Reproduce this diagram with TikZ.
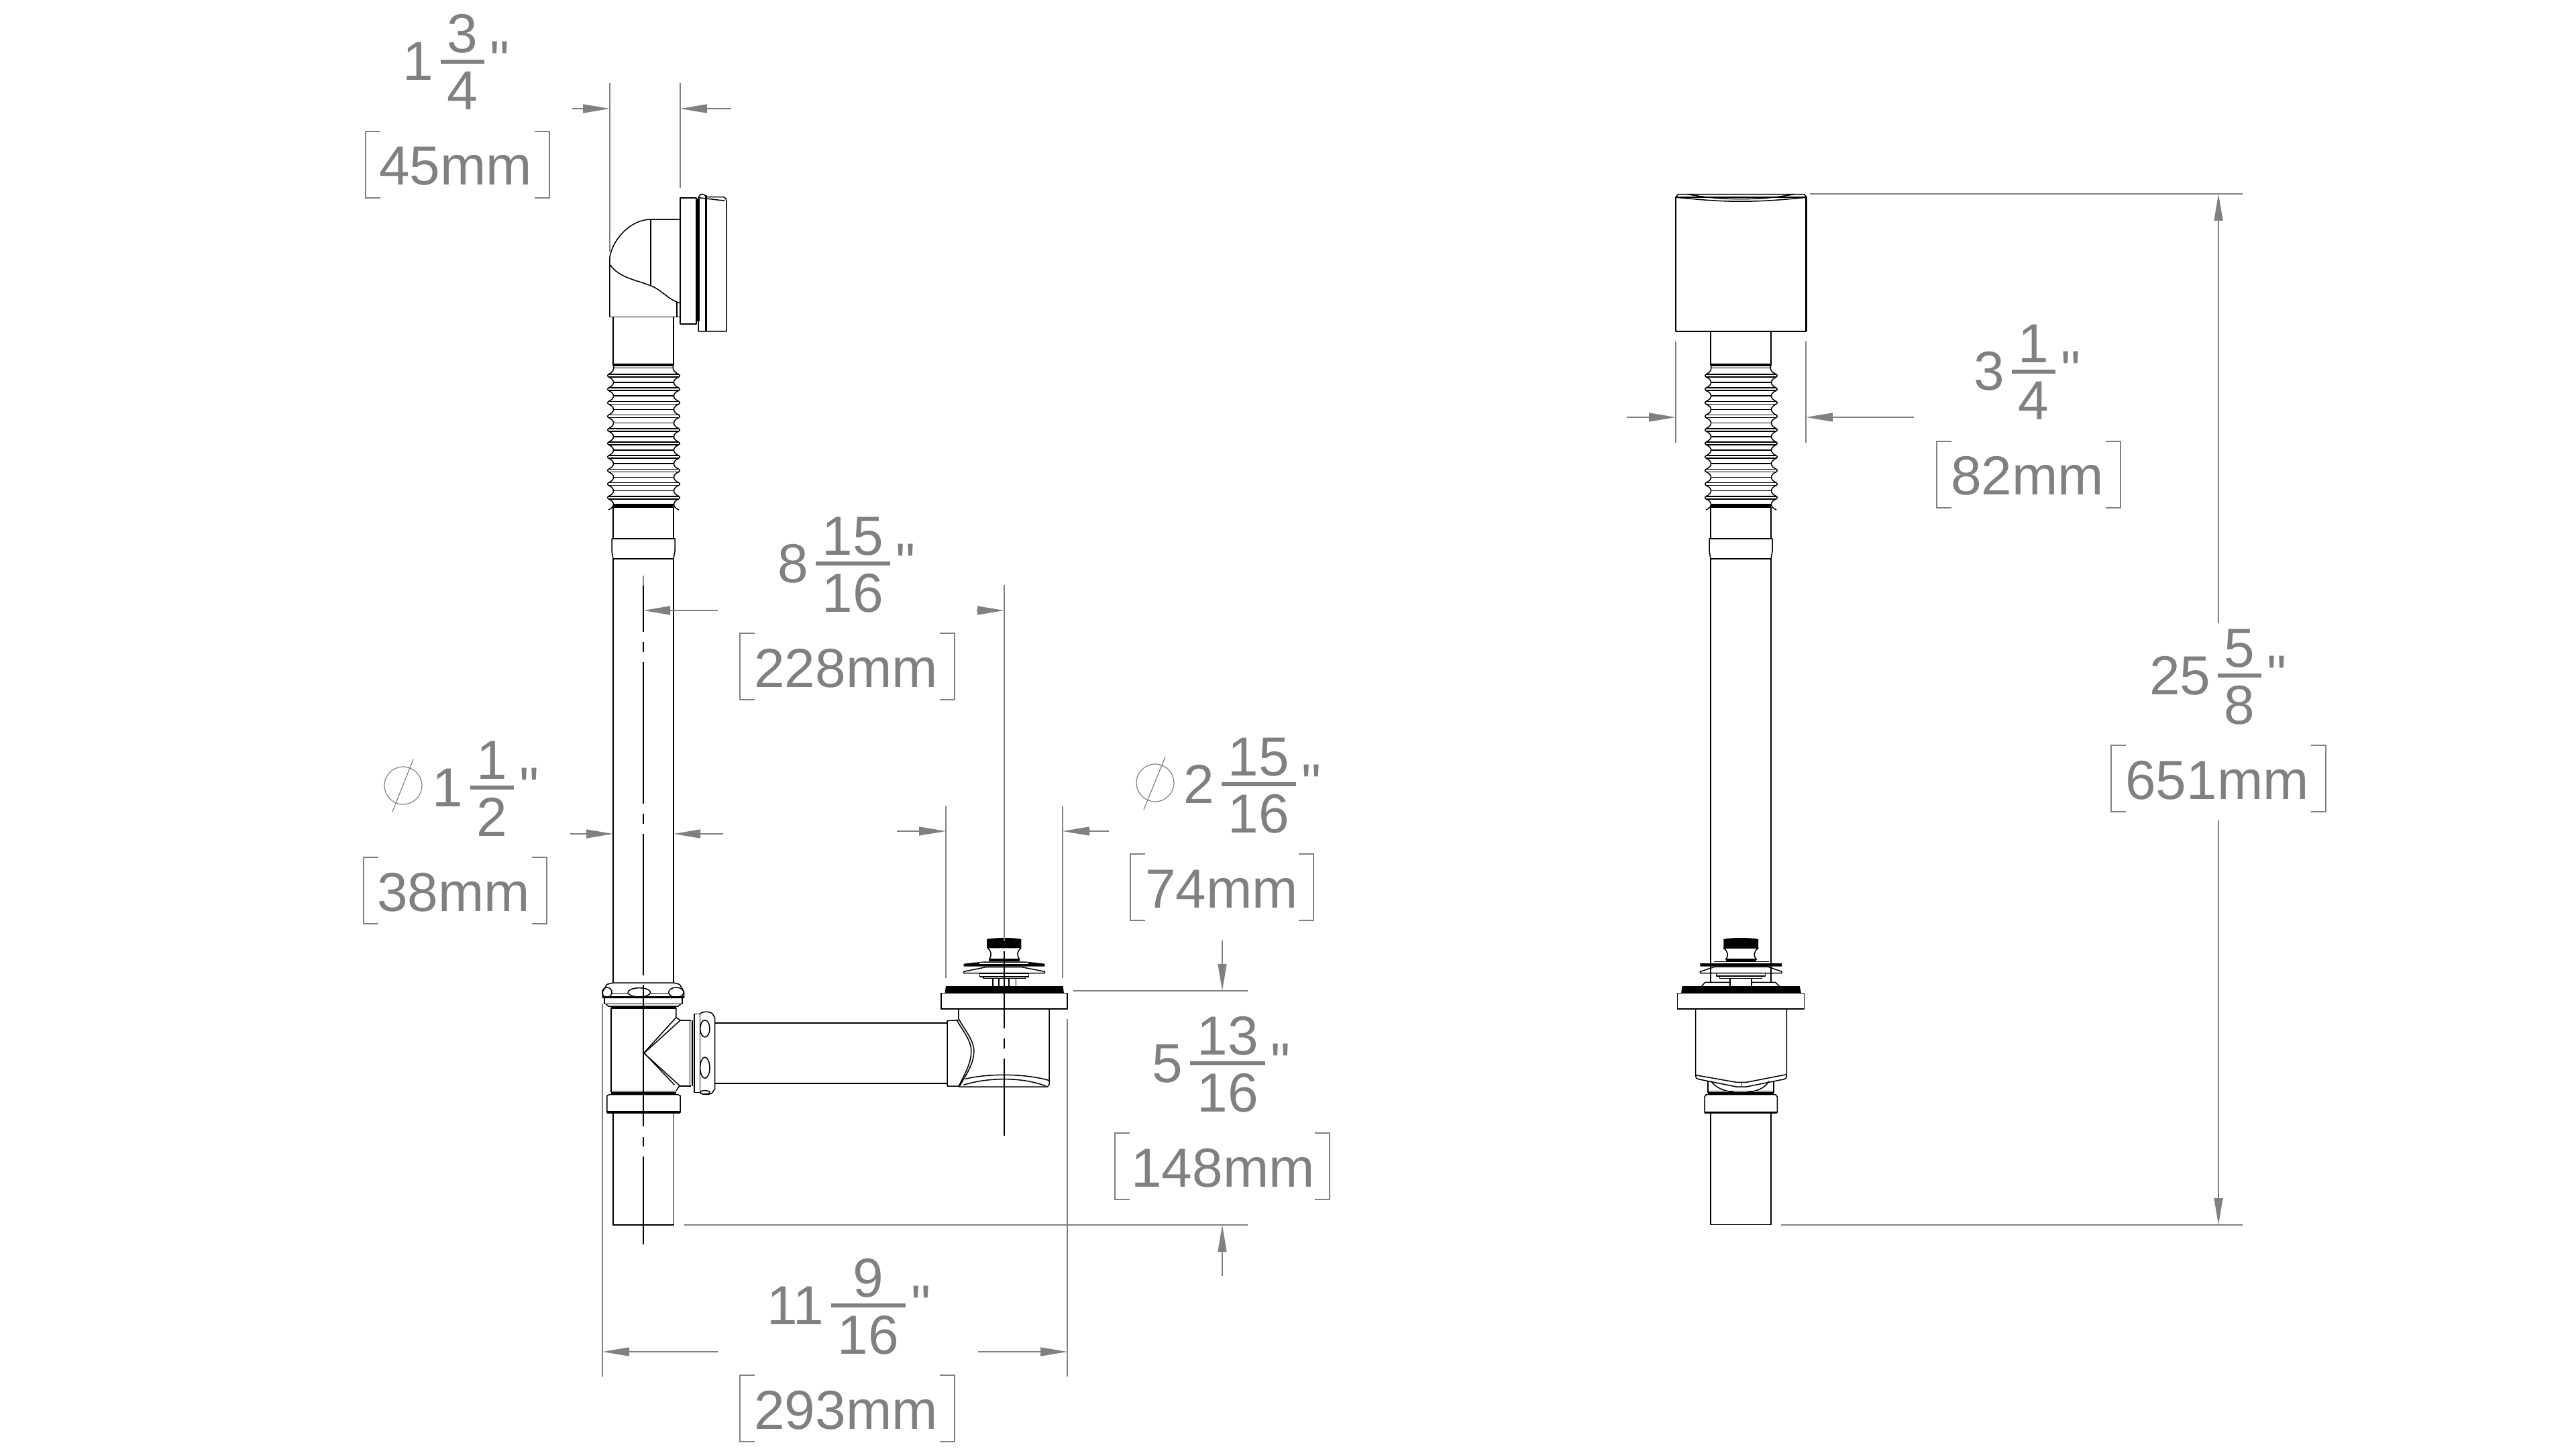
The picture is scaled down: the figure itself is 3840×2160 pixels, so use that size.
\documentclass[tikz,border=0pt]{standalone}
\usepackage{xcolor}
\usepackage{fontspec}
\usepackage{tikz}
\usetikzlibrary{arrows.meta}
\setmainfont{Liberation Sans}
\newfontfamily\inchfont{Liberation Sans}
\definecolor{dimgrey}{HTML}{808080}

% whole number, fraction and inch mark: name, bar left, bar right, bar y, whole, top, bottom
\newcommand{\dimfrac}[7]{
	\node[dimtext, anchor=base east](#1whole) at (#2-10,#4+28) {#5};
	\node[dimtext](#1top) at ({(#2+#3)/2},#4-13) {#6};
	\node[dimtext](#1bottom) at ({(#2+#3)/2},#4+72) {#7};
	\node[dimtext](#1inch) at (#3+23,#4+27) {\inchfont"};
	\draw[dimgrey, line width=1.65pt] (#2,#4) -- (#3,#4);
}
% millimetres in brackets: name, centre x, bar y, text, bracket left, bracket right
\newcommand{\dimmm}[6]{
	\node[dimtext](#1mm) at (#2,#3+184) {#4};
	\draw[dimthin] (#5+22,#3+104) -- (#5,#3+104) -- (#5,#3+203) -- (#5+22,#3+203);
	\draw[dimthin] (#6-22,#3+104) -- (#6,#3+104) -- (#6,#3+203) -- (#6-22,#3+203);
}

\begin{document}
\begin{tikzpicture}[x=0.25pt,y=-0.25pt]
	\tikzstyle{outline}=[line width=0.38pt, black, line join=round]
	\tikzstyle{heavy}=[line width=0.85pt, black]
	\tikzstyle{dimline}=[line width=0.38pt, dimgrey]
	\tikzstyle{dimthin}=[line width=0.3pt, dimgrey]
	\tikzstyle{dimtext}=[inner sep=0pt, anchor=base, text=dimgrey, font=\fontsize{20.5}{24}\selectfont]
	\tikzset{dimarrow/.style = {dimline, -{Triangle[length=10pt,width=3.25pt]}}}
	\useasboundingbox (0,0) rectangle (3840,2160);

	% elbow and overflow plate, left view
	\begin{scope}[shift={(500,0)},xscale=1/2.24,yscale=1/2.8]
		\draw[outline] (916,1323) -- (916,1075) .. controls (925,1000) and (985,916) .. (1053,916) -- (1150,916);
		\draw[outline] (1053,916) -- (1053,1193);
		\draw[outline] (916,1103) .. controls (945,1160) and (1010,1170) .. (1053,1193) .. controls (1090,1210) and (1110,1250) .. (1150,1265);
		\draw[outline] (1140,1260) -- (1140,1323) (916,1323) -- (1150,1323);
		\draw[outline] (1151,826) rectangle (1205,1352);
		\draw[heavy] (1212,830) -- (1212,1340);
		\draw[outline] (1212,1383) -- (1212,825) .. controls (1216,812) and (1226,800) .. (1238,822) -- (1295,822) .. controls (1302,824) and (1306,830) .. (1306,838) -- (1306,1383) -- cycle;
		\draw[heavy] (1238,815) -- (1238,1383);
		\draw[outline] (1212,825) -- (1300,838);
	\end{scope}
	\draw[outline] (914,472) -- (914,544) (1004,472) -- (1004,544);

	% box, right view
	\begin{scope}[shift={(2440,250)},xscale=1/3,yscale=1/2.53]
		\draw[outline] (174,112) -- (185,100) -- (748,100) -- (760,112);
		\draw[outline] (174,112) .. controls (260,118) and (340,127) .. (465,127) .. controls (590,127) and (680,118) .. (760,112);
		\draw[outline] (225,100) .. controls (270,106) and (340,118) .. (465,118) .. controls (590,118) and (660,106) .. (705,100);
		\draw[outline] (174,112) rectangle (757,617);
		\draw[heavy] (757,112) -- (757,617);
	\end{scope}
	\draw[outline] (2550,494) -- (2550,544) (2640,494) -- (2640,544);

	% bellows and collar, both views
	\foreach \dx in {0,1636} {
		\begin{scope}[shift={(\dx,0)}]
			\draw[heavy] (914,544) -- (1004,544);
			\draw[outline] (915,548.5) -- (1003,548.5);
			\draw[outline] (914,544) .. controls (916,550) and (915,554) .. (907,558);
			\draw[outline] (1004,544) .. controls (1002,550) and (1003,554) .. (1012,558);
			\foreach \r in {0,...,9} {
				\pgfmathsetmacro{\y}{560+20.2*\r}
				\draw[outline] (907,\y-2) -- (1012,\y-2) (907,\y+2) -- (1012,\y+2);
				\draw[outline] (907,\y-2) -- (905.5,\y) -- (907,\y+2) (1012,\y-2) -- (1013.5,\y) -- (1012,\y+2);
				\draw[outline] (907,\y+2) .. controls (917,\y+6) and (917,\y+14) .. (907,\y+18.2);
				\draw[outline] (1012,\y+2) .. controls (1002,\y+6) and (1002,\y+14) .. (1012,\y+18.2);
				\draw[outline] (915,\y+10) -- (1004,\y+10);
			}
			\draw[heavy] (914,755) -- (1004,755);
			\draw[outline] (914,756) -- (914,1465) (1004,756) -- (1004,1465);
			\draw[outline, fill=white] (912,803) -- (1006,803) -- (1006,822) -- (1004,833) -- (914,833) -- (912,822) -- cycle;
		\end{scope}
	}

	% tee and waste arm, left view
	\begin{scope}[shift={(860,1380)},xscale=1/1.96,yscale=1/3]
		\draw[outline, fill=white] (106,255) -- (283,255) -- (300,262) -- (313,295) -- (313,322) -- (75,322) -- (75,295) -- (88,262) -- cycle;
		\draw[outline] (182,298) ellipse [x radius=33, y radius=20];
		\draw[outline] (88,298) ellipse [x radius=14, y radius=22];
		\draw[outline] (290,298) ellipse [x radius=22, y radius=22];
		\draw[outline] (102,302) -- (150,302) (215,302) -- (268,302) (75,318) -- (313,318);
		\draw[outline] (80,322) rectangle (308,350);
		\draw[outline] (85,350) -- (92,360) -- (296,360) -- (303,350);
		\draw[heavy] (100,367) -- (290,367);
		\draw[outline] (100,367) -- (100,745);
		\draw[outline] (290,367) -- (290,410) -- (302,423) -- (333,423);
		\draw[outline] (290,410) -- (196,568) -- (285,712);
		\draw[outline] (302,423) -- (196,570) -- (300,715) -- (290,738);
		\draw[outline] (300,717) -- (333,717);
		\draw[outline] (100,740) -- (290,740);
		\draw[heavy] (100,748) -- (290,748);
		\draw[outline] (88,760) -- (95,755) -- (295,755) -- (302,760) -- (302,835) -- (88,835) -- cycle;
		\draw[heavy] (88,834) -- (302,834);
		\draw[outline] (106,838) -- (106,1338) -- (283,1338) -- (283,838);
		% union nut
		\draw[outline] (330,423) -- (330,717);
		\draw[outline] (337,423) -- (337,717);
		\draw[outline] (343,395) rectangle (360,745);
		\draw[outline] (360,395) .. controls (362,385) and (385,380) .. (395,392) -- (403,410) -- (403,730) -- (395,748) .. controls (385,758) and (362,755) .. (360,745);
		\draw[outline] (374,460) ellipse [x radius=14, y radius=38];
		\draw[outline] (374,635) ellipse [x radius=14, y radius=47];
		\draw[outline] (374,745) ellipse [x radius=14, y radius=8];
		\draw[outline] (403,435) -- (1082,435) (403,705) -- (1082,705);
		% drain body
		\draw[outline] (1115,422) -- (1082,425) -- (1082,717) -- (1118,717);
		\draw[outline] (1115,375) -- (1115,415) .. controls (1130,460) and (1160,510) .. (1160,560) .. controls (1160,620) and (1135,670) .. (1118,717);
		\draw[outline] (1110,422) .. controls (1125,465) and (1152,510) .. (1152,560) .. controls (1152,620) and (1130,670) .. (1116,717);
		\draw[outline] (1380,375) -- (1380,710) -- (1375,720) -- (1116,720);
		\draw[outline] (1135,685) .. controls (1200,660) and (1310,660) .. (1380,692);
		\draw[outline] (1130,712) .. controls (1200,678) and (1300,675) .. (1370,717);
		\draw[outline] (1064,302) rectangle (1433,372);
		\fill[black] (1075,302) -- (1078,270) -- (1420,270) -- (1423,302) -- cycle;
		% stopper
		\draw[outline] (1215,235) -- (1215,270) (1233,235) -- (1233,270) (1262,235) -- (1262,270) (1283,235) -- (1283,270);
		\draw[outline] (1188,228) rectangle (1310,235);
		\draw[outline] (1177,215) rectangle (1320,228);
		\draw[outline] (1130,205) -- (1195,185) -- (1300,185) -- (1367,205) -- (1367,212) -- (1130,212) -- cycle;
		\fill[black] (1130,170) -- (1190,160) -- (1310,160) -- (1367,170) -- (1367,182) -- (1130,182) -- cycle;
		\fill[white] (1175,165) -- (1320,165) -- (1320,170) -- (1175,170) -- cycle;
		\fill[black] (1198,60) .. controls (1230,52) and (1270,52) .. (1298,60) -- (1298,100) -- (1198,100) -- cycle;
		\fill[black] (1203,148) rectangle (1293,158);
		\draw[outline] (1200,100) .. controls (1212,115) and (1212,130) .. (1205,150);
		\draw[outline] (1298,100) .. controls (1285,115) and (1285,130) .. (1293,150);
	\end{scope}

	% drain body and stopper, right view
	\begin{scope}[shift={(2440,1380)},xscale=1/3,yscale=1/3]
		\draw[outline, fill=white] (388,100) .. controls (408,115) and (412,135) .. (398,150) -- (535,150) .. controls (520,135) and (522,115) .. (543,100) -- cycle;
		\fill[black] (388,60) .. controls (430,52) and (500,52) .. (543,60) -- (543,100) -- (388,100) -- cycle;
		\fill[black] (398,148) rectangle (535,158);
		\draw[outline] (345,160) -- (590,160);
		\fill[black] (283,168) -- (345,168) -- (590,168) -- (648,168) -- (648,182) -- (283,182) -- cycle;
		\draw[outline] (283,205) -- (350,183) -- (585,183) -- (648,205) -- (648,212) -- (283,212) -- cycle;
		\draw[outline] (355,212) rectangle (575,225);
		\draw[outline] (370,225) rectangle (560,235);
		\draw[outline] (417,235) -- (417,270) (513,235) -- (513,270);
		\draw[outline] (290,270) -- (305,253) -- (417,253) (513,253) -- (620,253) -- (637,270);
		\fill[black] (198,302) -- (203,270) -- (728,270) -- (735,302) -- cycle;
		\draw[outline] (182,302) rectangle (748,372);
		\draw[outline] (263,372) -- (263,670) .. controls (264,682) and (268,685) .. (275,686) -- (445,720) -- (490,720) -- (660,686) .. controls (666,685) and (670,680) .. (670,668) -- (670,372);
		\draw[outline] (263,668) -- (445,700) -- (490,700) -- (670,665);
		\draw[outline] (466,703) -- (466,718);
		\draw[outline] (318,693) -- (318,748) (612,693) -- (612,748);
		\draw[outline] (332,695) .. controls (360,735) and (410,742) .. (466,750) .. controls (520,742) and (570,735) .. (590,695);
		\draw[outline] (318,740) -- (612,740);
		\draw[heavy] (318,750) -- (612,750);
		\draw[outline] (303,765) -- (310,755) -- (620,755) -- (628,765) -- (628,835) -- (303,835) -- cycle;
		\draw[heavy] (303,835) -- (628,835);
		\draw[outline] (330,838) -- (330,1337) -- (600,1337) -- (600,838);
	\end{scope}

	% centre lines
	\draw[dimline] (959,858) -- (959,873);
	\foreach \a/\b in {873/942,957/972,987/1198,1213/1228,1243/1454,1468/1679,1695/1709,1724/1855} {
		\draw[outline] (959,\a) -- (959,\b);
	}
	\draw[dimline] (1497,872) -- (1497,1403);
	\foreach \a/\b in {1418/1533,1548/1563,1578/1693} {
		\draw[outline] (1497,\a) -- (1497,\b);
	}

	% 1 3/4
	\draw[dimline] (909,124) -- (909,375);
	\draw[dimline] (1014,124) -- (1014,280);
	\draw[dimarrow] (853,162) -- (909,162);
	\draw[dimarrow] (1090,162) -- (1014,162);
	\dimfrac{a}{657}{722}{92}{1}{3}{4}
	\dimmm{a}{679}{92}{45mm}{545}{819}

	% 8 15/16
	\draw[dimarrow] (1070,910) -- (959,910);
	\draw[dimarrow] (1456,910) -- (1497,910);
	\dimfrac{b}{1216}{1327}{840}{8}{15}{16}
	\dimmm{b}{1261}{840}{228mm}{1103}{1423}

	% dia 1 1/2
	\draw[dimarrow] (850,1243) -- (914,1243);
	\draw[dimarrow] (1078,1243) -- (1004,1243);
	\draw[dimthin] (601,1171) circle [radius=28] (616,1132) -- (585,1210);
	\dimfrac{c}{701}{766}{1174}{1}{1}{2}
	\dimmm{c}{676}{1174}{38mm}{542}{815}

	% dia 2 15/16
	\draw[dimline] (1410,1202) -- (1410,1458);
	\draw[dimline] (1584,1202) -- (1584,1458);
	\draw[dimarrow] (1337,1239) -- (1410,1239);
	\draw[dimarrow] (1653,1239) -- (1584,1239);
	\draw[dimthin] (1722,1167) circle [radius=28] (1737,1128) -- (1705,1207);
	\dimfrac{d}{1821}{1932}{1169}{2}{15}{16}
	\dimmm{d}{1821}{1169}{74mm}{1685}{1958}

	% 5 13/16
	\draw[dimline] (1600,1477) -- (1860,1477);
	\draw[dimline] (1020,1826) -- (1860,1826);
	\draw[dimarrow] (1822,1402) -- (1822,1477);
	\draw[dimarrow] (1822,1902) -- (1822,1826);
	\dimfrac{e}{1774}{1886}{1585}{5}{13}{16}
	\dimmm{e}{1823}{1585}{148mm}{1662}{1982}

	% 11 9/16
	\draw[dimline] (898,1496) -- (898,2052);
	\draw[dimline] (1591,1519) -- (1591,2052);
	\draw[dimarrow] (1070,2015) -- (898,2015);
	\draw[dimarrow] (1458,2015) -- (1591,2015);
	\dimfrac{f}{1239}{1350}{1946}{11}{9}{16}
	\dimmm{f}{1261}{1946}{293mm}{1103}{1423}

	% 3 1/4
	\draw[dimline] (2498,509) -- (2498,660);
	\draw[dimline] (2692,509) -- (2692,660);
	\draw[dimarrow] (2425,622) -- (2498,622);
	\draw[dimarrow] (2853,622) -- (2692,622);
	\dimfrac{g}{2999}{3064}{554}{3}{1}{4}
	\dimmm{g}{3022}{554}{82mm}{2887}{3161}

	% 25 5/8
	\draw[dimline] (2698,289) -- (3343,289);
	\draw[dimline] (2655,1826) -- (3343,1826);
	\draw[dimarrow] (3307,929) -- (3307,289);
	\draw[dimarrow] (3307,1223) -- (3307,1826);
	\dimfrac{h}{3306}{3371}{1007}{25}{5}{8}
	\dimmm{h}{3305}{1007}{651mm}{3147}{3467}
\end{tikzpicture}
\end{document}
